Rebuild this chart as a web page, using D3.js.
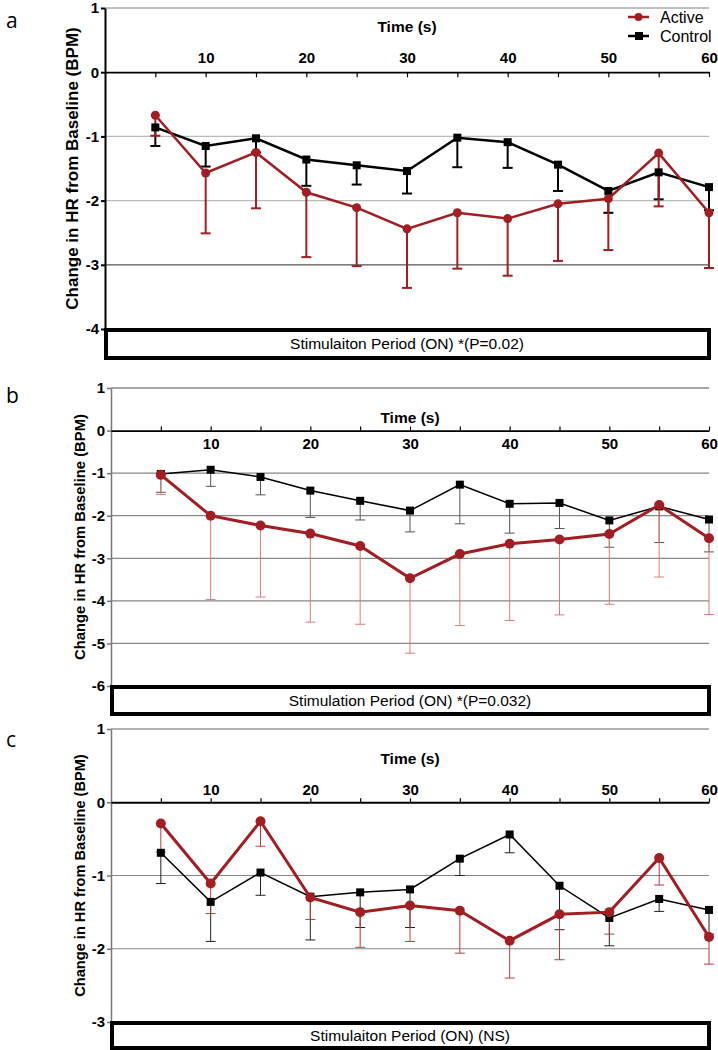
<!DOCTYPE html>
<html>
<head>
<meta charset="utf-8">
<script src="https://cdn.jsdelivr.net/npm/d3@7"></script>
<style>
  body { margin: 0; background: #fff; }
  svg { display: block; }
</style>
</head>
<body>
<div class="chart"></div>
<script>
// Dimensions de la page
const width = 718;
const height = 1050;

const times = [5, 10, 15, 20, 25, 30, 35, 40, 45, 50, 55, 60];
const timeLabels = [10, 20, 30, 40, 50, 60];
const seriesNames = ["Active", "Control"];

// panel a
const activeA = [-0.67, -1.57, -1.25, -1.87, -2.11, -2.44, -2.19, -2.28, -2.05, -1.97, -1.26, -2.19];
const activeAErr = [0.32, 0.94, 0.87, 1.01, 0.91, 0.92, 0.87, 0.89, 0.89, 0.80, 0.83, 0.86];
const controlA = [-0.86, -1.15, -1.03, -1.36, -1.45, -1.54, -1.02, -1.09, -1.44, -1.85, -1.56, -1.79];
const controlAErr = [0.29, 0.32, 0.22, 0.41, 0.30, 0.35, 0.46, 0.40, 0.41, 0.34, 0.42, 0.36];

// panel b
const activeB = [-1.04, -2.00, -2.23, -2.42, -2.71, -3.47, -2.90, -2.66, -2.56, -2.43, -1.75, -2.53];
const activeBErr = [0.46, 1.97, 1.68, 2.08, 1.84, 1.76, 1.68, 1.80, 1.77, 1.65, 1.69, 1.79];
const controlB = [-1.02, -0.92, -1.09, -1.41, -1.65, -1.88, -1.27, -1.72, -1.70, -2.11, -1.78, -2.09];
const controlBErr = [0.43, 0.39, 0.42, 0.63, 0.45, 0.50, 0.92, 0.69, 0.60, 0.63, 0.85, 0.76];

// panel c
const activeC = [-0.29, -1.11, -0.26, -1.30, -1.50, -1.41, -1.48, -1.89, -1.53, -1.50, -0.76, -1.84];
const activeCErr = [0.39, 0.41, 0.34, 0.30, 0.48, 0.49, 0.58, 0.51, 0.62, 0.30, 0.37, 0.37];
const controlC = [-0.69, -1.36, -0.96, -1.29, -1.23, -1.19, -0.77, -0.44, -1.14, -1.58, -1.32, -1.47];
const controlCErr = [0.42, 0.54, 0.31, 0.59, 0.48, 0.52, 0.23, 0.25, 0.60, 0.38, 0.17, 0.33];

const panelLetters = ["a", "b", "c"];
const yDomains = [[-4, 1], [-6, 1], [-3, 1]];
const boxTexts = [
  "Stimulaiton Period (ON) *(P=0.02)",
  "Stimulation Period (ON) *(P=0.032)",
  "Stimulaiton Period (ON) (NS)"
];
const yTitle = "Change in HR from Baseline (BPM)";
const xTitle = "Time (s)";

const red = "#a31e23";

const svg = d3.select('.chart')
  .append('svg')
  .attr('width', width)
  .attr('height', height)
  .style('font-family', '"Liberation Sans", Arial, sans-serif');

function rows(means, errs) {
  return times.map((t, i) => ({ t: t, m: means[i], e: errs[i] }));
}

const panels = [
  {
    left: 105, top: 8, bottom: 329, boxH: 28, letterY: 28,
    active: rows(activeA, activeAErr), control: rows(controlA, controlAErr),
    axisPos: 'top', tickIn: -5, tickPad: 9,
    axisColor: '#000', axisW: 2, gridColor: ['#bbb', '#bbb', '#555'], topGrid: '#aaa',
    redW: 2.5, blackW: 2.5, redErr: red, blackErr: '#000', errW: 2,
    r: 4.5, sq: 8, yTitleX: 72, yTitleSize: 17, titleY: 32, legend: true
  },
  {
    left: 111, top: 388, bottom: 686, boxH: 27, letterY: 403,
    active: rows(activeB, activeBErr), control: rows(controlB, controlBErr),
    axisPos: 'bottom', tickIn: -4, tickPad: 8,
    axisColor: '#777', axisW: 1.5, gridColor: ['#888'], topGrid: '#888',
    redW: 3, blackW: 1.5, redErr: '#e07a7a', blackErr: '#555', errW: 1,
    r: 5, sq: 8, yTitleX: 80, yTitleSize: 14.8, titleY: 423, legend: false
  },
  {
    left: 111, top: 729, bottom: 1022, boxH: 25, letterY: 747,
    active: rows(activeC, activeCErr), control: rows(controlC, controlCErr),
    axisPos: 'top', tickIn: 4, tickPad: 3,
    axisColor: '#777', axisW: 1.5, gridColor: ['#888'], topGrid: '#999',
    redW: 3, blackW: 1.5, redErr: '#c0393d', blackErr: '#222', errW: 1,
    r: 5, sq: 8, yTitleX: 80, yTitleSize: 14.6, titleY: 764, legend: false
  }
];

panels.forEach((p, i) => drawPanel(p, i));

function drawPanel(p, i) {
  const right = 709;
  const scaleX = d3.scaleLinear().domain([0, 60]).range([p.left, right]);
  const scaleY = d3.scaleLinear().domain(yDomains[i]).range([p.bottom, p.top]);
  const g = svg.append('g');

  // panel letter
  g.append('text')
    .attr('x', 6).attr('y', p.letterY)
    .style('font-family', '"Open Sans", "Noto Sans", sans-serif')
    .style('font-size', '21px')
    .text(panelLetters[i]);

  // grid lines
  const yTicks = d3.range(yDomains[i][0], yDomains[i][1] + 1);
  g.append('g').selectAll('line')
    .data(yTicks.filter(d => d !== 0 && d !== yDomains[i][0]))
    .join('line')
      .attr('x1', p.left).attr('x2', right)
      .attr('y1', d => scaleY(d)).attr('y2', d => scaleY(d))
      .attr('stroke', d => d === 1 ? p.topGrid : (p.gridColor[Math.abs(d) - 1] || p.gridColor[0]))
      .attr('stroke-width', d => d === 1 ? 1.5 : 1.2);

  // y axis
  g.append('g')
    .attr('transform', `translate(${p.left}, 0)`)
    .call(d3.axisLeft(scaleY).tickValues(yTicks).tickSize(4).tickSizeOuter(0).tickPadding(2)
      .tickFormat(d => String(d)))
    .call(a => a.selectAll('.domain, line').attr('stroke', p.axisColor).attr('stroke-width', p.axisW))
    .call(a => a.selectAll('text').style('font-size', '15px').style('font-weight', 'bold')
      .style('font-family', '"Liberation Sans", Arial, sans-serif').attr('fill', '#000'));

  // y title
  g.append('text')
    .attr('transform', `translate(${p.yTitleX}, ${(p.top + p.bottom) / 2}) rotate(-90)`)
    .attr('text-anchor', 'middle')
    .attr('dy', '0.35em')
    .style('font-size', p.yTitleSize + 'px')
    .style('font-weight', 'bold')
    .text(yTitle);

  // x axis at zero
  const axisFn = p.axisPos === 'top' ? d3.axisTop : d3.axisBottom;
  g.append('g')
    .attr('transform', `translate(0, ${scaleY(0)})`)
    .call(axisFn(scaleX).tickValues(times).tickSizeInner(p.tickIn).tickSizeOuter(0).tickPadding(p.tickPad)
      .tickFormat(d => timeLabels.includes(d) ? d : ''))
    .call(a => a.select('.domain').attr('stroke', '#000').attr('stroke-width', 1.8))
    .call(a => a.selectAll('.tick line').attr('stroke', '#000').attr('stroke-width', 1.2))
    .call(a => a.selectAll('text').style('font-size', '15px').style('font-weight', 'bold')
      .style('font-family', '"Liberation Sans", Arial, sans-serif').attr('fill', '#000'));

  g.append('text')
    .attr('x', scaleX(30)).attr('y', p.titleY)
    .attr('text-anchor', 'middle')
    .style('font-size', '15.5px')
    .style('font-weight', 'bold')
    .text(xTitle);

  const line = d3.line().x(d => scaleX(d.t)).y(d => scaleY(d.m));

  // error bars (downward only)
  function errBars(data, color) {
    const eb = g.append('g').attr('stroke', color).attr('stroke-width', p.errW);
    eb.selectAll('.v').data(data).join('line')
      .attr('x1', d => scaleX(d.t)).attr('x2', d => scaleX(d.t))
      .attr('y1', d => scaleY(d.m)).attr('y2', d => scaleY(d.m - d.e));
    eb.selectAll('.c').data(data).join('line')
      .attr('x1', d => scaleX(d.t) - 5).attr('x2', d => scaleX(d.t) + 5)
      .attr('y1', d => scaleY(d.m - d.e)).attr('y2', d => scaleY(d.m - d.e));
  }

  errBars(p.control, p.blackErr);
  errBars(p.active, p.redErr);

  g.append('path').datum(p.control)
    .attr('fill', 'none').attr('stroke', '#000').attr('stroke-width', p.blackW)
    .attr('d', line);
  g.append('g').selectAll('rect').data(p.control).join('rect')
    .attr('x', d => scaleX(d.t) - p.sq / 2).attr('y', d => scaleY(d.m) - p.sq / 2)
    .attr('width', p.sq).attr('height', p.sq).attr('fill', '#000');

  g.append('path').datum(p.active)
    .attr('fill', 'none').attr('stroke', red).attr('stroke-width', p.redW)
    .attr('d', line);
  g.append('g').selectAll('circle').data(p.active).join('circle')
    .attr('cx', d => scaleX(d.t)).attr('cy', d => scaleY(d.m))
    .attr('r', p.r).attr('fill', red);

  // stimulation box
  const by = scaleY(yDomains[i][0]);
  g.append('rect')
    .attr('x', p.left + 1).attr('y', by + 1)
    .attr('width', right - p.left - 1).attr('height', p.boxH)
    .attr('fill', '#fff').attr('stroke', '#000').attr('stroke-width', 4);
  g.append('text')
    .attr('x', (p.left + right) / 2).attr('y', by + p.boxH / 2 + 1)
    .attr('dy', '0.35em')
    .attr('text-anchor', 'middle')
    .style('font-size', '15.5px')
    .text(boxTexts[i]);

  if (p.legend) {
    const lg = g.append('g');
    const colors = [red, '#000'];
    seriesNames.forEach((name, k) => {
      const ly = 17 + k * 19;
      lg.append('line').attr('x1', 628).attr('x2', 649).attr('y1', ly).attr('y2', ly)
        .attr('stroke', colors[k]).attr('stroke-width', 2.5);
      if (k === 0) {
        lg.append('circle').attr('cx', 638.5).attr('cy', ly).attr('r', 4).attr('fill', colors[k]);
      } else {
        lg.append('rect').attr('x', 635).attr('y', ly - 4).attr('width', 8).attr('height', 8).attr('fill', colors[k]);
      }
      lg.append('text').attr('x', 660).attr('y', ly).attr('dy', '0.35em')
        .style('font-size', '16px').text(name);
    });
  }
}
</script>
</body>
</html>
